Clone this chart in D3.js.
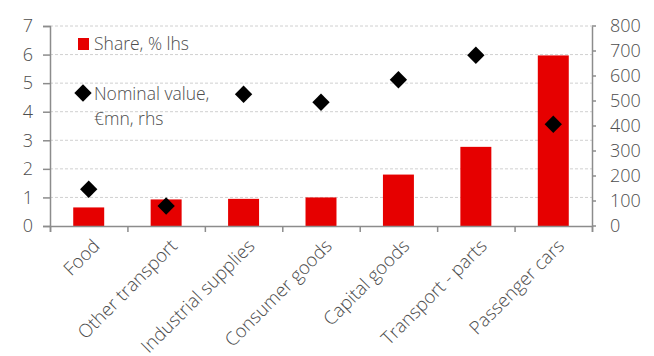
<!DOCTYPE html>
<html>
<head>
<meta charset="utf-8">
<script src="https://cdn.jsdelivr.net/npm/d3@7"></script>
<style>
  body { margin: 0; background: #fff; }
  text { font-family: "Open Sans", sans-serif; font-weight: 300; fill: #4d4d4d; }
</style>
</head>
<body>
<svg id="chart" width="654" height="356"></svg>
<script>
const categories = ["Food", "Other transport", "Industrial supplies", "Consumer goods",
  "Capital goods", "Transport - parts", "Passenger cars"];
const share = [0.65, 0.93, 0.95, 1.0, 1.8, 2.77, 5.97];
const nominal = [147, 80, 527, 495, 585, 683, 407];
const leftTicks = [0, 1, 2, 3, 4, 5, 6, 7];
const rightTicks = [0, 100, 200, 300, 400, 500, 600, 700, 800];

const margin = { top: 26, right: 62, bottom: 130, left: 50 };
const width = 654 - margin.left - margin.right;
const height = 356 - margin.top - margin.bottom;
const axisColor = "#8c8c8c";

const svg = d3.select("#chart")
  .append("g")
  .attr("transform", `translate(${margin.left}, ${margin.top})`);

const x = d3.scaleBand().domain(categories).range([0, width]).paddingInner(0.6).paddingOuter(0.3);
const xTicks = d3.scaleLinear().domain([0, categories.length]).range([0, width]);
const yL = d3.scaleLinear().domain([0, 7]).range([height, 0]);
const yR = d3.scaleLinear().domain([0, 800]).range([height, 0]);

// gridlines
svg.selectAll(".grid")
  .data(leftTicks.slice(1))
  .join("line")
  .attr("x1", 0).attr("x2", width)
  .attr("y1", d => yL(d)).attr("y2", d => yL(d))
  .attr("stroke", "#d0d0d0")
  .attr("stroke-dasharray", "3,2");

// bars
svg.selectAll(".bar")
  .data(share)
  .join("rect")
  .attr("x", (d, i) => x(categories[i]))
  .attr("width", x.bandwidth())
  .attr("y", d => yL(d))
  .attr("height", d => height - yL(d))
  .attr("fill", "#e60000");

// left axis
const yAxisL = svg.append("g")
  .call(d3.axisLeft(yL).tickValues(leftTicks).tickFormat(d3.format("d")).tickSize(7).tickPadding(10));
// right axis
const yAxisR = svg.append("g")
  .attr("transform", `translate(${width}, 0)`)
  .call(d3.axisRight(yR).tickValues(rightTicks).tickSize(0).tickPadding(18));
svg.append("g")
  .attr("transform", `translate(${width}, 0)`)
  .selectAll("line")
  .data(rightTicks)
  .join("line")
  .attr("x1", 0).attr("x2", 4)
  .attr("y1", d => yR(d)).attr("y2", d => yR(d))
  .attr("stroke", axisColor).attr("stroke-width", 1.5);
// x axis
const xAxis = svg.append("g")
  .attr("transform", `translate(0, ${height})`)
  .call(d3.axisBottom(xTicks).ticks(categories.length).tickSize(6).tickFormat(""));

[yAxisL, yAxisR, xAxis].forEach(g => {
  g.select(".domain").attr("stroke", axisColor).attr("stroke-width", 1.5);
  g.selectAll(".tick line").attr("stroke", axisColor).attr("stroke-width", 1.5);
  g.selectAll("text").style("font-size", "18px").attr("fill", "#4d4d4d")
    .style("font-family", "'Open Sans', sans-serif").style("font-weight", 300);
});
yAxisR.selectAll("text").attr("text-anchor", "start");

// category labels
svg.append("g")
  .selectAll("text")
  .data(categories)
  .join("text")
  .attr("transform", d => `translate(${x(d) + x.bandwidth() / 2 + 3}, ${height + 12}) rotate(-45)`)
  .attr("text-anchor", "end")
  .attr("dy", "0.7em")
  .style("font-size", "18.5px")
  .text(d => d);

// diamonds
const diamond = d3.symbol().type(d3.symbolSquare).size(150);
svg.selectAll(".pt")
  .data(nominal)
  .join("path")
  .attr("d", diamond)
  .attr("transform", (d, i) => `translate(${x(categories[i]) + x.bandwidth() / 2}, ${yR(d)}) rotate(45)`)
  .attr("fill", "#000");

// legend
const leg = svg.append("g");
leg.append("rect").attr("x", 28).attr("y", 12).attr("width", 11).attr("height", 12).attr("fill", "#e60000");
leg.append("text").attr("x", 44).attr("y", 23.5).style("font-size", "17.5px").text("Share, % lhs");
leg.append("path").attr("d", diamond).attr("transform", "translate(33, 67) rotate(45)").attr("fill", "#000");
leg.append("text").attr("x", 44).attr("y", 74).style("font-size", "17.5px").text("Nominal value,");
leg.append("text").attr("x", 44).attr("y", 99).style("font-size", "17.5px").text("€mn, rhs");
</script>
</body>
</html>
